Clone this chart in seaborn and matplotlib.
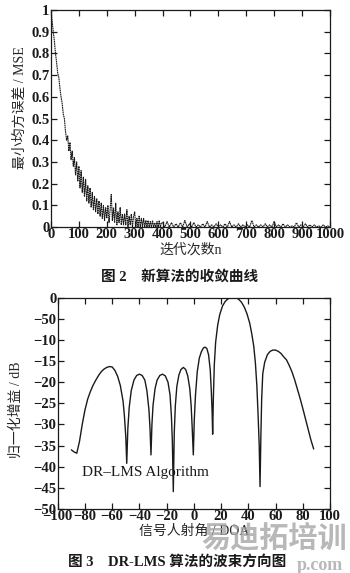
import numpy as np
import pandas as pd
import matplotlib
matplotlib.use("Agg")
import matplotlib.pyplot as plt
import seaborn as sns

# ---- Fig. 2: MSE learning curve of the new algorithm ----
iter_early = list(range(0, 400, 4))
mse_early = [
    1.00, 0.95, 0.90, 0.86, 0.80, 0.76, 0.71, 0.69, 0.64, 0.60,
    0.57, 0.52, 0.50, 0.44, 0.40, 0.42, 0.35, 0.39, 0.31, 0.35,
    0.28, 0.32, 0.24, 0.30, 0.21, 0.28, 0.18, 0.26, 0.16, 0.23,
    0.14, 0.22, 0.12, 0.19, 0.11, 0.18, 0.09, 0.16, 0.08, 0.14,
    0.07, 0.13, 0.06, 0.12, 0.05, 0.11, 0.04, 0.10, 0.03, 0.09,
    0.04, 0.10, 0.02, 0.08, 0.15, 0.03, 0.09, 0.02, 0.11, 0.01,
    0.07, 0.02, 0.09, 0.01, 0.06, 0.01, 0.06, 0.01, 0.08, 0.00,
    0.05, 0.01, 0.06, 0.00, 0.05, 0.07, 0.00, 0.04, 0.00, 0.05,
    0.00, 0.04, 0.00, 0.04, 0.00, 0.03, 0.00, 0.03, 0.00, 0.025,
    0.00, 0.03, 0.00, 0.02, 0.00, 0.025, 0.00, 0.03, 0.00, 0.02,
]
iter_late = list(range(400, 1001, 8))
mse_late = [
    0.02, 0.00, 0.025, 0.00, 0.02, 0.00, 0.015, 0.00, 0.02, 0.00,
    0.03, 0.00, 0.015, 0.00, 0.02, 0.00, 0.01, 0.00, 0.015, 0.00,
    0.025, 0.00, 0.01, 0.00, 0.015, 0.00, 0.01, 0.00, 0.015, 0.00,
    0.025, 0.00, 0.01, 0.00, 0.015, 0.00, 0.01, 0.00, 0.01, 0.00,
    0.03, 0.00, 0.01, 0.00, 0.01, 0.00, 0.015, 0.00, 0.01, 0.00,
    0.025, 0.00, 0.01, 0.00, 0.015, 0.00, 0.01, 0.00, 0.005, 0.00,
    0.02, 0.00, 0.01, 0.00, 0.015, 0.00, 0.01, 0.00, 0.01, 0.00,
    0.005, 0.00, 0.01, 0.00, 0.005, 0.00,
]
mse_xticks = list(range(0, 1001, 100))
mse_yticks = [0, 0.1, 0.2, 0.3, 0.4, 0.5, 0.6, 0.7, 0.8, 0.9, 1]
mse_yticklabels = ["0", "0.1", "0.2", "0.3", "0.4", "0.5", "0.6", "0.7", "0.8", "0.9", "1"]

# ---- Fig. 3: DR-LMS beam pattern ----
doa_deg = [
    -90, -88, -86, -84, -82, -80, -78, -76, -74, -72, -70, -68, -66, -64, -62, -60,
    -58, -56, -54, -52, -51, -50, -49.3,
    -48.5, -47.5, -46, -44, -42, -40, -38, -36, -34.5, -33, -32.2, -31.5,
    -30.8, -30, -28.5, -27, -25, -23, -21, -19, -17.5, -16.5, -15.8, -15.1,
    -14.4, -13.6, -12.5, -11, -9.5, -7.7, -6, -4.5, -3, -2, -1.2, -0.4,
    0.3, 1.2, 2.5, 4, 5.5, 7, 8.2, 9.5, 10.8, 12, 12.8, 13.4, 13.8,
    14.3, 15, 16, 17.5, 19, 21, 23, 25, 27, 29, 31, 33, 35, 37, 39, 41,
    42.5, 44, 45.2, 46.3, 47.2, 48, 48.6,
    49.2, 49.8, 50.6, 52, 54, 56, 58, 60, 62, 64, 66, 68, 70, 72, 74, 76,
    78, 80, 82, 84, 86, 88,
]
gain_db = [
    -36.0, -36.5, -36.8, -34.0, -30.0, -26.6, -24.0, -22.2, -20.7, -19.5, -18.4, -17.5, -16.9, -16.5, -16.3, -16.4,
    -17.2, -18.6, -20.8, -24.5, -28.0, -33.0, -39.2,
    -31.0, -26.0, -22.0, -19.5, -18.4, -18.1, -18.4, -19.5, -22.0, -26.5, -31.0, -37.2,
    -30.0, -25.5, -21.5, -19.5, -18.4, -18.1, -18.5, -20.0, -23.0, -28.0, -34.0, -45.9,
    -32.0, -25.5, -21.0, -18.3, -17.0, -16.5, -17.0, -18.5, -21.5, -25.5, -31.0, -37.2,
    -29.0, -23.0, -17.5, -14.3, -12.8, -11.9, -11.7, -12.0, -13.5, -17.0, -22.0, -27.0, -32.3,
    -24.0, -16.0, -10.5, -6.5, -4.0, -2.0, -0.9, -0.3, -0.05, 0.0, 0.0, -0.4, -1.1, -2.2, -3.8, -6.0,
    -8.5, -11.5, -15.5, -21.0, -28.0, -35.0, -44.7,
    -33.0, -24.0, -18.0, -15.3, -13.5, -12.7, -12.4, -12.4, -12.7, -13.2, -14.0, -14.7, -16.0, -17.5, -19.4, -21.6,
    -23.8, -26.2, -28.7, -31.2, -33.7, -35.8,
]
doa_xticks = list(range(-100, 101, 20))
doa_xticklabels = ["\u2212100", "\u221280", "\u221260", "\u221240", "\u221220", "0",
                   "20", "40", "60", "80", "100"]
gain_yticks = [0, -5, -10, -15, -20, -25, -30, -35, -40, -45, -50]
gain_yticklabels = ["0", "\u221250", "\u221210", "\u221215", "\u221220", "\u221225",
                    "\u221230", "\u221235", "\u221240", "\u221245", "\u221250"]

sns.set_style("ticks")
plt.rcParams["font.family"] = ["Liberation Serif", "Noto Sans CJK SC"]
plt.rcParams["axes.unicode_minus"] = True

fig = plt.figure(figsize=(3.5, 5.73), dpi=100)
fig.patch.set_facecolor("white")

ink = "#1a1a1a"
tick_fs = 10.5

def style_axes(ax):
    for s in ax.spines.values():
        s.set_linewidth(0.9)
        s.set_color(ink)
    ax.tick_params(direction="in", top=True, right=True, length=4.5, width=0.9,
                   colors=ink, labelsize=tick_fs, pad=1.0)
    for lab in ax.get_xticklabels() + ax.get_yticklabels():
        lab.set_fontweight("bold")
    ax.set_facecolor("white")

# Top panel
ax1 = fig.add_axes([0.1457, 0.6038, 0.797, 0.3787])
mse_df = pd.DataFrame({"n": iter_early + iter_late, "mse": mse_early + mse_late})
sns.lineplot(data=mse_df, x="n", y="mse", ax=ax1, color=ink, lw=0.8,
             linestyle=(0, (1.5, 0.5)), estimator=None)
ax1.set_xlim(0, 1000)
ax1.set_ylim(0, 1)
ax1.set_xticks(mse_xticks)
ax1.set_yticks(mse_yticks)
ax1.set_yticklabels(mse_yticklabels)
style_axes(ax1)
ax1.set_xlabel("迭代次数n", fontsize=10, labelpad=1)
ax1.set_ylabel("最小均方误差 / MSE", fontsize=10, labelpad=2)
ax1.yaxis.set_label_coords(-0.085, 0.55)

# Bottom panel
ax2 = fig.add_axes([0.1649, 0.1117, 0.778, 0.3688])
bp_df = pd.DataFrame({"doa": doa_deg, "gain": gain_db})
sns.lineplot(data=bp_df, x="doa", y="gain", ax=ax2, color=ink, lw=1.0,
             sort=False, estimator=None)
ax2.set_xlim(-100, 100)
ax2.set_ylim(-50, 0)
ax2.set_xticks(doa_xticks)
ax2.set_xticklabels(doa_xticklabels)
ax2.set_yticks(gain_yticks)
ax2.set_yticklabels(gain_yticklabels)
style_axes(ax2)
ax2.set_xlabel("信号人射角 / DOA", fontsize=10, labelpad=1)
ax2.set_ylabel("归一化增益 / dB", fontsize=10, labelpad=2)
ax2.yaxis.set_label_coords(-0.13, 0.47)
ax2.text(-82.2, -41.4, "DR\u2013LMS Algorithm", fontsize=11,
         color=ink, va="center", ha="left")

# Captions
fig.text(0.514, 1 - 276.7 / 573, "图 2    新算法的收敛曲线", fontsize=10.5, fontweight="bold",
         ha="center", va="center", color=ink)
fig.text(0.506, 1 - 562 / 573, "图 3    DR-LMS 算法的波束方向图", fontsize=10.5, fontweight="bold",
         ha="center", va="center", color=ink, zorder=5)

# Publisher mark
fig.text(0.99, 1 - 538 / 573, "易迪拓培训", fontsize=21, fontweight="bold", ha="right",
         va="center", color="#a0a0a0", alpha=0.75, zorder=4)
fig.text(0.98, 1 - 566 / 573, "p.com", fontsize=13, fontweight="bold", ha="right",
         va="center", color="#a0a0a0", alpha=0.75, zorder=4)

fig.savefig("out.png", dpi=100, facecolor="white")
